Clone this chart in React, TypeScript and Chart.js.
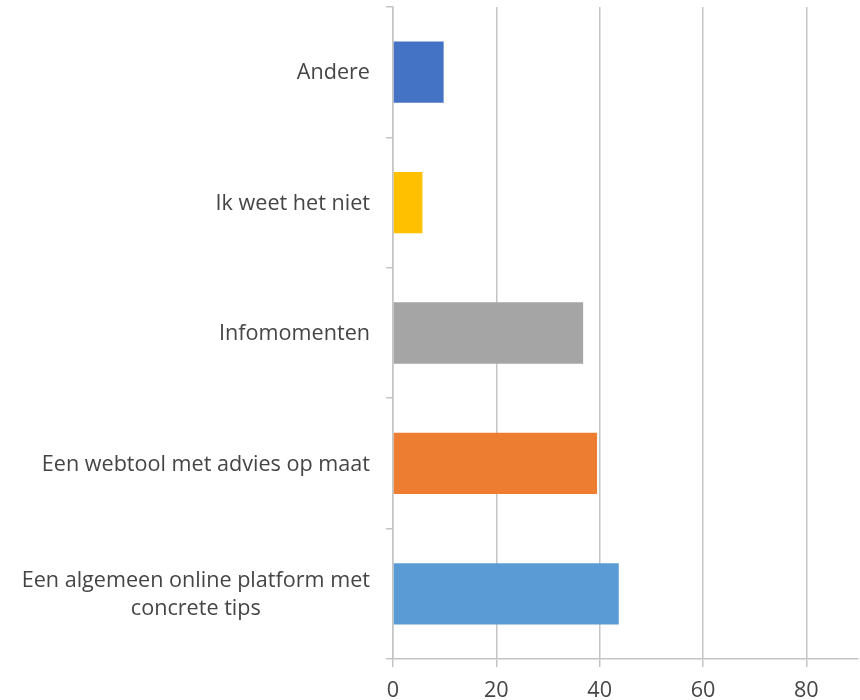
import React, { useEffect, useRef } from "react";
import { Chart, registerables } from "chart.js";

Chart.register(...registerables);

const categories: string[][] = [
  ["Andere"],
  ["Ik weet het niet"],
  ["Infomomenten"],
  ["Een webtool met advies op maat"],
  ["Een algemeen online platform met", "concrete tips"],
];
const values: number[] = [9.8, 5.7, 36.8, 39.5, 43.7];
const barColors: string[] = ["#4472C4", "#FFC000", "#A5A5A5", "#ED7D31", "#5B9BD5"];
const xTickValues: number[] = [0, 20, 40, 60, 80];

const FONT = "'Open Sans'";
const FONT_SIZE = 21.6;
const TEXT_COLOR = "#454545";
const LINE_COLOR = "#c4c4c4";

const labelPlugin = {
  id: "yLabels",
  afterDraw(chart: any) {
    const scale = chart.scales.y;
    const ctx = chart.ctx;
    ctx.save();
    ctx.font = `${FONT_SIZE}px ${FONT}`;
    ctx.fillStyle = TEXT_COLOR;
    ctx.textAlign = "center";
    ctx.textBaseline = "middle";
    const right = scale.right - 23;
    const lh = 28;
    categories.forEach((lines, i) => {
      const cy = scale.getPixelForTick(i) + 1;
      const w = Math.max(...lines.map((l) => ctx.measureText(l).width));
      const cx = right - w / 2;
      lines.forEach((line, j) => {
        ctx.fillText(line, cx, cy + (j - (lines.length - 1) / 2) * lh);
      });
    });
    ctx.restore();
  },
};

export default function App() {
  const ref = useRef<HTMLCanvasElement>(null);
  useEffect(() => {
    if (!ref.current) return;
    const chart = new Chart(ref.current, {
      type: "bar",
      data: {
        labels: categories.map((c) => c.join(" ")),
        datasets: [
          {
            data: values,
            backgroundColor: barColors,
            borderWidth: 0,
            barPercentage: 0.47,
            categoryPercentage: 1,
          },
        ],
      },
      plugins: [labelPlugin],
      options: {
        indexAxis: "y",
        animation: false,
        responsive: false,
        maintainAspectRatio: false,
        layout: { padding: { top: 7, right: 2, left: 0, bottom: 0 } },
        plugins: { legend: { display: false }, tooltip: { enabled: false } },
        scales: {
          x: {
            min: 0,
            max: 90,
            afterBuildTicks: (s: any) => {
              s.ticks = xTickValues.map((v) => ({ value: v }));
            },
            afterFit: (s: any) => {
              s.height = 41;
            },
            ticks: {
              color: TEXT_COLOR,
              font: { family: FONT, size: FONT_SIZE },
              padding: 11,
              maxRotation: 0,
            },
            grid: {
              color: LINE_COLOR,
              lineWidth: 1.5,
              tickLength: 8,
            },
            border: { color: LINE_COLOR, width: 1.5 },
          },
          y: {
            afterFit: (s: any) => {
              s.width = 393;
            },
            ticks: { display: false },
            grid: {
              drawOnChartArea: false,
              drawTicks: true,
              offset: true,
              tickLength: 7,
              color: LINE_COLOR,
              lineWidth: 1.5,
            },
            border: { color: LINE_COLOR, width: 1.5 },
          },
        },
      },
    });
    return () => chart.destroy();
  }, []);
  return (
    <div style={{ position: "fixed", left: 0, top: 0, width: 860, height: 700, background: "#fff" }}>
      <canvas ref={ref} width={860} height={700} style={{ width: 860, height: 700 }} />
    </div>
  );
}
